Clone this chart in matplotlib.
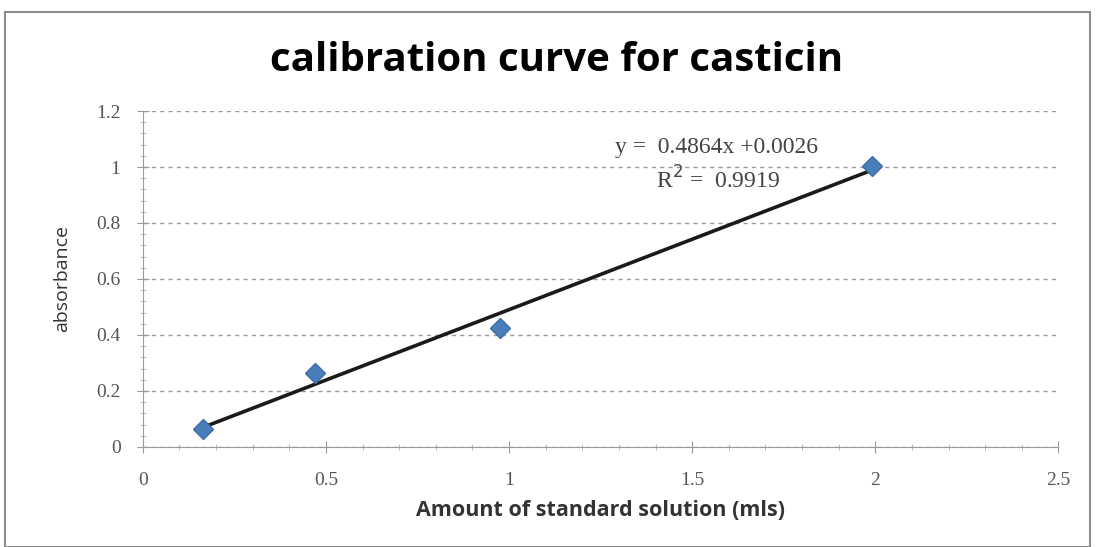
import numpy as np
import matplotlib.pyplot as plt
from matplotlib.patches import Rectangle
from matplotlib.ticker import MultipleLocator

# data
amount = [0.165, 0.47, 0.975, 1.99]
absorbance = [0.065, 0.265, 0.425, 1.005]
x_ticks = [0, 0.5, 1, 1.5, 2, 2.5]
y_ticks = [0, 0.2, 0.4, 0.6, 0.8, 1, 1.2]
equation = "y =  0.4864x +0.0026"
r_squared = "R$^2$ =  0.9919"

fig = plt.figure(figsize=(10.98, 5.47), dpi=100)
ax = fig.add_axes([0.130, 0.183, 0.834, 0.614])

# outer chart border
fig.patches.append(Rectangle((0.005, 0.0), 0.988, 0.978, transform=fig.transFigure,
                             fill=False, edgecolor="#8c8c8c", linewidth=1.5))

# trend line
slope, intercept = np.polyfit(amount, absorbance, 1)
xs = np.array([min(amount), max(amount)])
ax.plot(xs, slope * xs + intercept, color="#1a1a1a", linewidth=2.6, zorder=2)

ax.plot(amount, absorbance, linestyle="none", marker="D", markersize=10,
        color="#4a7ebb", markeredgecolor="#3b6ea8", zorder=3)

ax.set_xlim(0, 2.5)
ax.set_ylim(0, 1.2)
ax.set_xticks(x_ticks)
ax.set_xticklabels([f"{v:g}" for v in x_ticks])
ax.set_yticks(y_ticks)
ax.set_yticklabels([f"{v:g}" for v in y_ticks])
ax.xaxis.set_minor_locator(MultipleLocator(0.1))
ax.yaxis.set_minor_locator(MultipleLocator(0.04))

ax.grid(axis="y", which="major", linestyle=(0, (3, 3)), color="#9a9a9a", linewidth=1)
ax.set_axisbelow(True)
for s in ["top", "right"]:
    ax.spines[s].set_visible(False)
for s in ["left", "bottom"]:
    ax.spines[s].set_color("#9a9a9a")
ax.tick_params(which="major", direction="inout", length=8, color="#9a9a9a",
               labelsize=14, labelcolor="#555555")
ax.tick_params(axis="x", which="major", pad=14)
ax.tick_params(axis="y", which="major", pad=12)
ax.tick_params(which="minor", direction="inout", length=4, color="#b0b0b0")
for lab in ax.get_xticklabels() + ax.get_yticklabels():
    lab.set_family("Liberation Serif")

fig.text(0.507, 0.89, "calibration curve for casticin", fontsize=29, fontweight="bold",
         family="Open Sans", ha="center", va="center")
ax.set_xlabel("Amount of standard solution (mls)", fontsize=15.5, fontweight="bold",
              family="Open Sans", color="#333333", labelpad=8)
ax.set_ylabel("absorbance", fontsize=14, family="Open Sans", color="#333333", labelpad=18)

ax.text(1.29, 1.071, equation, fontsize=17, family="Liberation Serif", color="#444444",
        ha="left", va="center")
ax.text(1.40, 0.954, r_squared, fontsize=17, family="Liberation Serif", color="#444444",
        ha="left", va="center")

fig.savefig("out.png", dpi=100)
